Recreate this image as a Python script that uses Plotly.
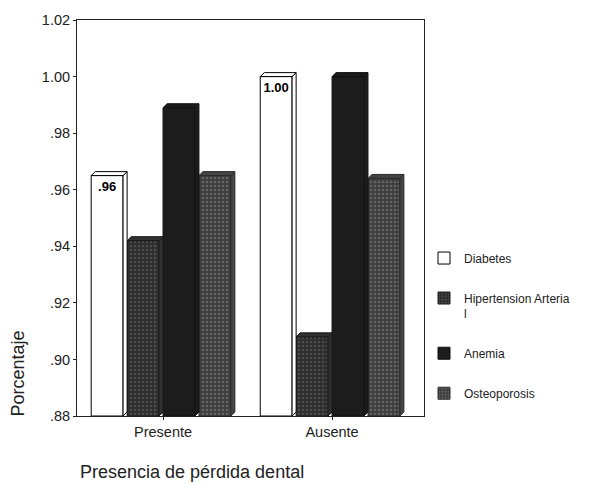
import plotly.graph_objects as go

categories = ["Presente", "Ausente"]
diabetes = [0.965, 1.00]
hipertension = [0.942, 0.908]
anemia = [0.989, 1.00]
osteoporosis = [0.965, 0.964]
diabetes_labels = [".96", "1.00"]
y_ticks = [0.88, 0.90, 0.92, 0.94, 0.96, 0.98, 1.00, 1.02]
y_tick_labels = [".88", ".90", ".92", ".94", ".96", ".98", "1.00", "1.02"]
series_names = ["Diabetes", "Hipertension Arteria<br>l", "Anemia", "Osteoporosis"]
series_values = [diabetes, hipertension, anemia, osteoporosis]

Y0, Y1 = 0.88, 1.02
slot = 0.85 / 4           # width of each bar slot (bargap 0.15)
depth_x = 0.024           # 3D depth in x data units (~4px)
depth_y = 0.0014          # 3D depth in y data units (~4px)

styles = [
    dict(color="white", line=dict(color="black", width=1)),
    dict(color="#2e2e2e", line=dict(color="#1a1a1a", width=1),
         pattern=dict(shape=".", fgcolor="#6a6a6a", bgcolor="#2e2e2e", size=4, solidity=0.3)),
    dict(color="#1c1c1c", line=dict(color="#111", width=1)),
    dict(color="#3e3e3e", line=dict(color="#2a2a2a", width=1),
         pattern=dict(shape=".", fgcolor="#8a8a8a", bgcolor="#3e3e3e", size=4, solidity=0.35)),
]
face_fill = ["white", "#303030", "#1c1c1c", "#444444"]
face_line = ["black", "#1a1a1a", "#111", "#2a2a2a"]

fig = go.Figure()
shapes = []
for j, (name, vals) in enumerate(zip(series_names, series_values)):
    off = -2 * slot + j * slot
    kw = {}
    if j == 0:
        kw = dict(text=diabetes_labels, textposition="inside", insidetextanchor="end",
                  textfont=dict(family="Arial", size=13, color="black", weight="bold"))
    fig.add_trace(go.Bar(
        x=[0, 1], y=[v - Y0 for v in vals], base=Y0, name=name,
        offset=off, width=slot - depth_x, legendgroup=str(j),
        marker=styles[j], hoverinfo="skip", **kw,
    ))
    for i, v in enumerate(vals):
        left = i + off
        fr = left + slot - depth_x
        rt = left + slot
        # right side face
        shapes.append(dict(type="path", xref="x", yref="y",
                           path=f"M{fr},{Y0} L{rt},{Y0 + depth_y} L{rt},{v + depth_y} L{fr},{v} Z",
                           fillcolor=face_fill[j], line=dict(color=face_line[j], width=1), layer="above"))
        # top face
        shapes.append(dict(type="path", xref="x", yref="y",
                           path=f"M{left},{v} L{left + depth_x},{v + depth_y} L{rt},{v + depth_y} L{fr},{v} Z",
                           fillcolor=face_fill[j], line=dict(color=face_line[j], width=1), layer="above"))

pl, pr, pt, pb = 77, 168, 16, 68
pw = 592 - pl - pr
ph = 484 - pt - pb

fig.update_layout(
    width=592, height=484,
    margin=dict(l=pl, r=pr, t=pt, b=pb),
    paper_bgcolor="white", plot_bgcolor="white",
    barmode="overlay",
    font=dict(family="Arial", size=14, color="#222"),
    showlegend=True,
    legend=dict(x=1.0, xanchor="left", y=0.435, yanchor="top", valign="top",
                font=dict(family="Arial", size=12, color="#222"),
                tracegroupgap=21, itemwidth=30, bgcolor="rgba(0,0,0,0)"),
    xaxis=dict(range=[-0.509, 1.544], tickvals=[0, 1], ticktext=categories,
               showline=True, linecolor="#222", linewidth=1,
               mirror=True, ticks="outside", ticklen=3, tickcolor="#222",
               tickfont=dict(family="Arial", size=14.5, color="#222")),
    yaxis=dict(range=[Y0, Y1], tickvals=y_ticks, ticktext=y_tick_labels,
               showline=True, linecolor="#222", linewidth=1, mirror=True,
               ticks="outside", ticklen=3, tickcolor="#222", showgrid=False,
               zeroline=False, tickfont=dict(family="Arial", size=14.5, color="#222")),
    shapes=shapes,
    annotations=[
        dict(text="Porcentaje", textangle=-90, x=(18 - pl) / pw, y=(484 - pb - 373) / ph,
             xref="paper", yref="paper", xanchor="center", yanchor="middle",
             showarrow=False, font=dict(family="Arial", size=18, color="#222")),
        dict(text="Presencia de pérdida dental", x=(78 - pl) / pw, y=(484 - pb - 473) / ph,
             xref="paper", yref="paper", xanchor="left", yanchor="middle",
             showarrow=False, font=dict(family="Arial", size=18, color="#222")),
    ],
)

fig.write_html("out.html")
